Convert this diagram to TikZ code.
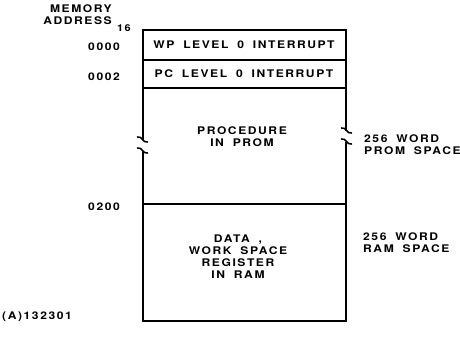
\documentclass[tikz,border=0pt]{standalone}
\usepackage{fontspec}
\newfontfamily\memfont[LetterSpace=15, FakeStretch=1.15, WordSpace=1.8, UprightFont=*, BoldFont=* Bold]{TeX Gyre Heros}
\usetikzlibrary{
positioning,
calc
}
\tikzset{
memrow/.style={draw, line width=2pt, minimum width=203pt, inner sep=0pt, outer sep=0pt,
  align=center, font=\memfont\bfseries\fontsize{10.5}{12}\selectfont},
memtext/.style={inner sep=0pt, font=\memfont\bfseries\fontsize{10.5}{12}\selectfont},
memsub/.style={inner sep=0pt, font=\memfont\bfseries\fontsize{9.5}{10}\selectfont},
memside/.style={line width=2pt},
memcut/.style={line width=1.6pt, line cap=round}
}
\begin{document}
\begin{tikzpicture}[x=1pt, y=-1pt]
\useasboundingbox (0,0) rectangle (460,353);
% memory map
\node[memrow, minimum height=30pt] (wp) at (244,45) {WP LEVEL 0 INTERRUPT};
\node[memrow, minimum height=28pt, below=0pt of wp] (pc) {PC LEVEL 0 INTERRUPT};
\node[memrow, draw=none, minimum height=116pt, below=0pt of pc] (prom) {};
\node[memrow, minimum height=117pt, below=0pt of prom] (ram) {};
\node[memtext, align=center] (promtxt) at (242,137) {PROCEDURE\\IN PROM};
\node[memtext, align=center] (ramtxt) at (238,257) {DATA ,\\WORK SPACE\\REGISTER\\IN RAM};

% broken sides of the PROM region
\draw[memside] (prom.north west) -- ++(0,52);
\draw[memside] (prom.south west) -- ++(0,-53);
\draw[memside] (prom.north east) -- ++(0,43);
\draw[memside] (prom.south east) -- ++(0,-62);
\foreach \dy in {52,63} {
  \draw[memcut] ($(prom.north west)+(-5,\dy-3)$) .. controls +(5,-1) and +(-5,1) .. ++(10,5);
}
\foreach \dy in {43,54} {
  \draw[memcut] ($(prom.north east)+(-4,\dy-3)$) .. controls +(5,-1) and +(-5,1) .. ++(10,5);
}

% addresses
\node[memtext, align=right, anchor=north east] (addr) at (112,5) {MEMORY\\ADDRESS};
\node[memsub, anchor=west] (base) at (117,28) {16};
\node[memtext, anchor=east] (a0000) at (120,47) {0000};
\node[memtext, anchor=east] (a0002) at (120,77) {0002};
\node[memtext, anchor=east] (a0200) at (120,207) {0200};

% sizes
\node[memtext, align=left, anchor=west] (promsz) at (364,145) {256 WORD\\PROM SPACE};
\node[memtext, align=left, anchor=west] (ramsz) at (363,243) {256 WORD\\RAM SPACE};

\node[memtext, anchor=west] (figid) at (2,317) {(A)132301};
\end{tikzpicture}
\end{document}
